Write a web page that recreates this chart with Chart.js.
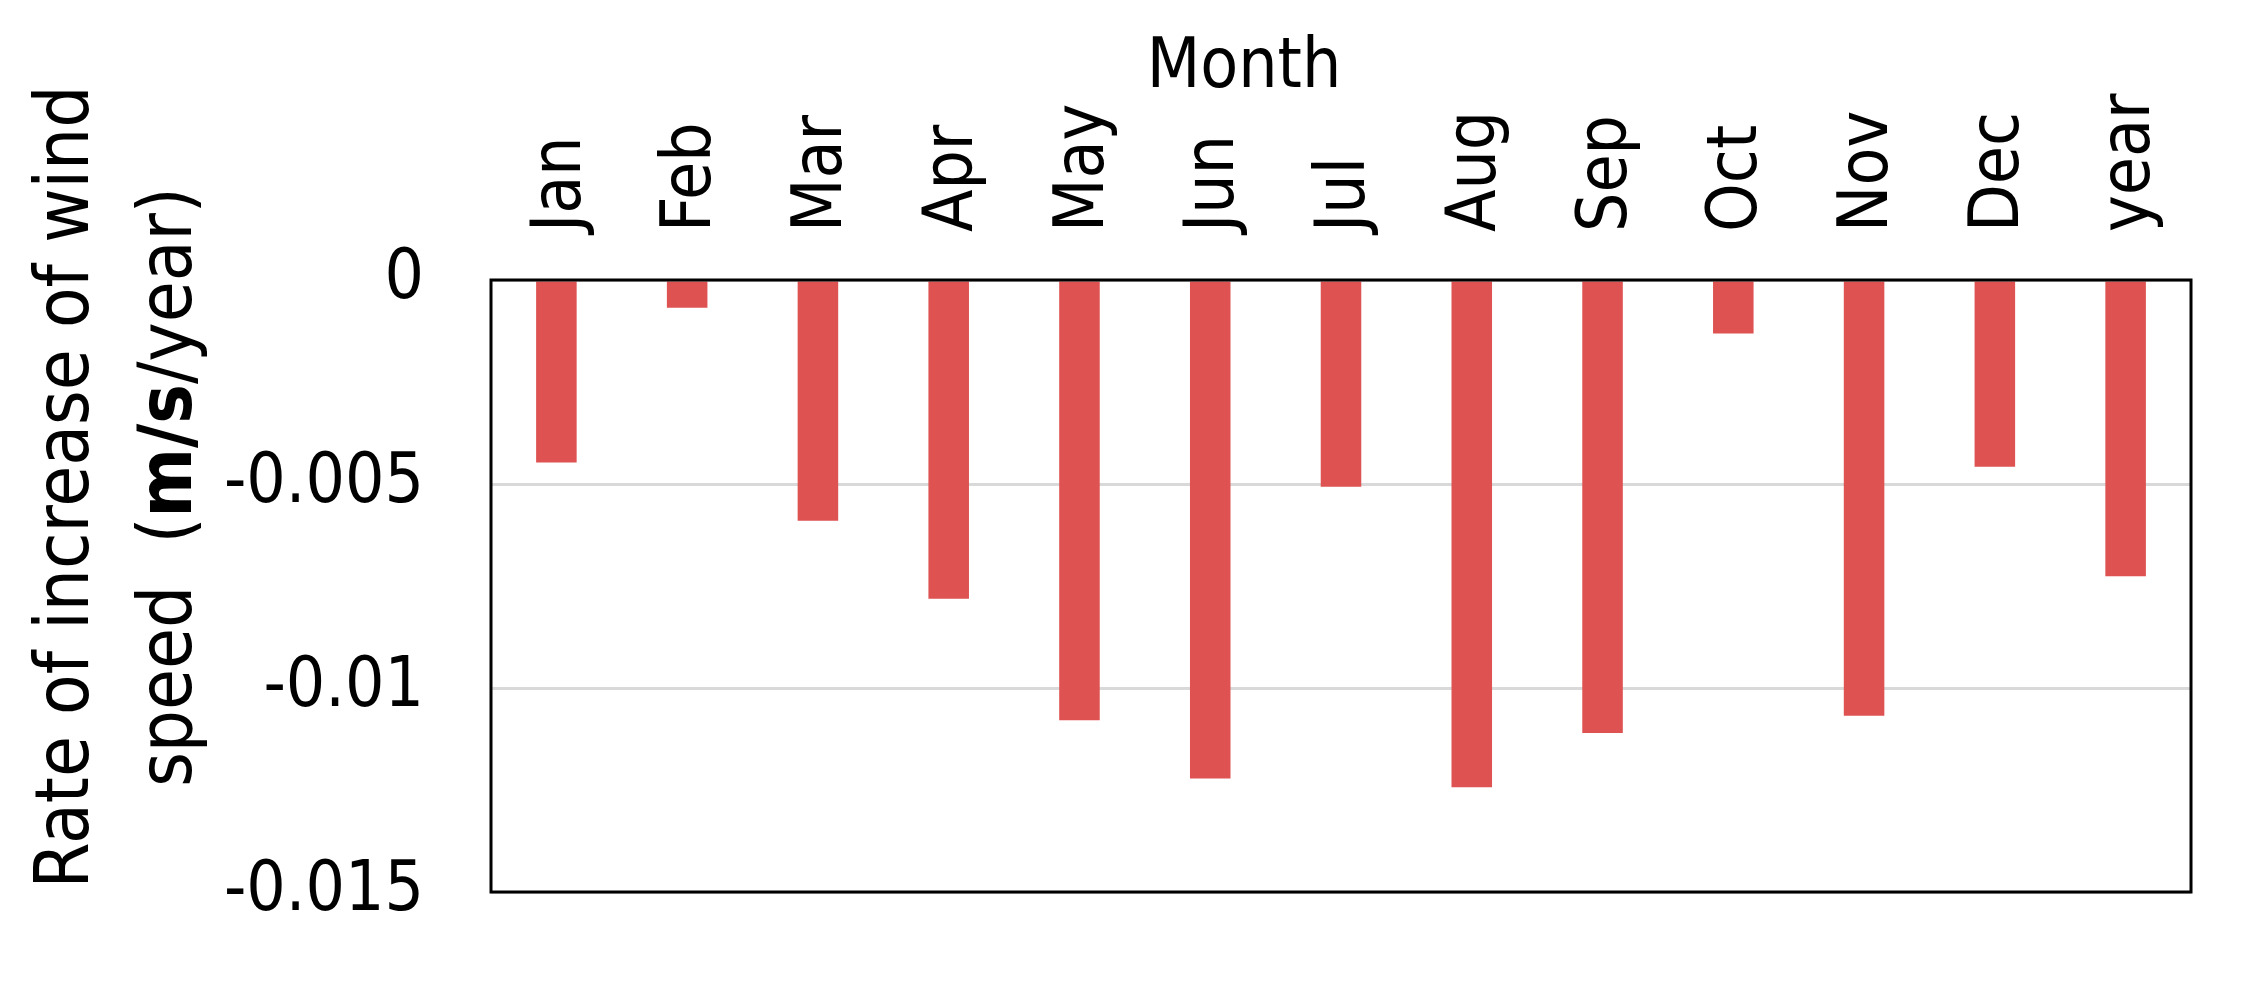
<!DOCTYPE html>
<html>
<head>
<meta charset="utf-8">
<script src="https://cdn.jsdelivr.net/npm/chart.js@4.4.1/dist/chart.umd.min.js"></script>
<style>
  html, body { margin: 0; padding: 0; background: #ffffff; }
  canvas { display: block; }
</style>
</head>
<body>
<canvas id="c" width="2243" height="982"></canvas>
<script>
// ---- data ----
const categories = ['Jan', 'Feb', 'Mar', 'Apr', 'May', 'Jun', 'Jul', 'Aug', 'Sep', 'Oct', 'Nov', 'Dec', 'year'];
const rateValues = [-0.00447, -0.00068, -0.0059, -0.00781, -0.01079, -0.01222, -0.00507, -0.01243, -0.0111, -0.00131, -0.01068, -0.00458, -0.00726];
const yTickValues = [0, -0.005, -0.01, -0.015];
const yTickLabels = ['0', '-0.005', '-0.01', '-0.015'];
const xTitle = 'Month';
const yTitleLine1 = 'Rate of increase of wind';
const yTitleLine2Parts = [['speed  (', false], ['m/s', true], ['/year)', false]];

const FAMILY = "'DejaVu Sans Condensed', 'DejaVu Sans', sans-serif";

const framePlugin = {
  id: 'frame',
  afterDatasetsDraw(chart) {
    const { ctx, chartArea: a } = chart;
    ctx.save();
    ctx.strokeStyle = '#000000';
    ctx.lineWidth = 3;
    ctx.strokeRect(a.left, a.top, a.right - a.left, a.bottom - a.top);
    ctx.restore();
  }
};

const titlesPlugin = {
  id: 'titles',
  afterDraw(chart) {
    const ctx = chart.ctx;
    ctx.save();
    ctx.fillStyle = '#000000';
    // x-axis title
    ctx.font = `69px ${FAMILY}`;
    ctx.textAlign = 'center';
    ctx.textBaseline = 'alphabetic';
    ctx.fillText(xTitle, 1244, 87);
    // y-axis title (rotated, two lines)
    const cy = 487;
    ctx.save();
    ctx.translate(88, cy);
    ctx.rotate(-Math.PI / 2);
    ctx.font = `74px ${FAMILY}`;
    ctx.textAlign = 'center';
    ctx.fillText(yTitleLine1, 0, 0);
    ctx.restore();
    ctx.save();
    ctx.translate(191, cy);
    ctx.rotate(-Math.PI / 2);
    ctx.textAlign = 'left';
    let total = 0;
    const widths = yTitleLine2Parts.map(([t, b]) => {
      ctx.font = `${b ? 'bold ' : ''}74px ${FAMILY}`;
      const w = ctx.measureText(t).width;
      total += w;
      return w;
    });
    let x = -total / 2;
    yTitleLine2Parts.forEach(([t, b], i) => {
      ctx.font = `${b ? 'bold ' : ''}74px ${FAMILY}`;
      ctx.fillText(t, x, 0);
      x += widths[i];
    });
    ctx.restore();
    ctx.restore();
  }
};

new Chart(document.getElementById('c'), {
  type: 'bar',
  data: {
    labels: categories,
    datasets: [{
      data: rateValues,
      backgroundColor: 'rgb(222,82,82)',
      borderWidth: 0,
      barPercentage: 1,
      categoryPercentage: 0.31
    }]
  },
  options: {
    responsive: false,
    animation: false,
    devicePixelRatio: 1,
    layout: { padding: { left: 0, top: 0, right: 52, bottom: 90 } },
    plugins: { legend: { display: false }, tooltip: { enabled: false } },
    scales: {
      x: {
        position: 'top',
        grid: { display: false, drawTicks: false },
        border: { display: false },
        ticks: {
          autoSkip: false,
          minRotation: 90,
          maxRotation: 90,
          padding: 48,
          labelOffset: 88,
          color: '#000000',
          font: { family: FAMILY, size: 69 }
        },
        afterFit(scale) { scale.height = 280; }
      },
      y: {
        min: -0.015,
        max: 0,
        grid: { color: '#d9d9d9', lineWidth: 3, drawTicks: true, tickLength: 67, tickColor: 'rgba(0,0,0,0)' },
        border: { display: false },
        ticks: {
          stepSize: 0.005,
          padding: 0,
          color: '#000000',
          font: { family: FAMILY, size: 69 },
          callback(v) {
            const i = yTickValues.findIndex(t => Math.abs(t - v) < 1e-9);
            return i >= 0 ? yTickLabels[i] : '';
          }
        },
        afterFit(scale) { scale.width = 491; }
      }
    }
  },
  plugins: [framePlugin, titlesPlugin]
});
</script>
</body>
</html>
